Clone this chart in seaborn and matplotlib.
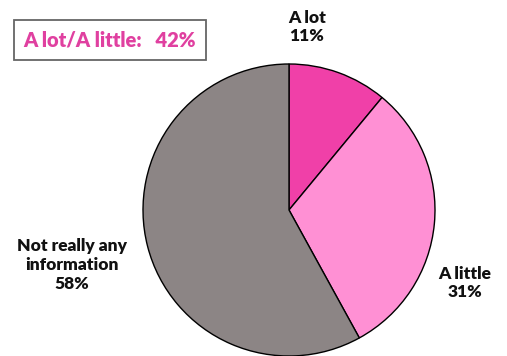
import matplotlib
matplotlib.use("Agg")
import matplotlib.pyplot as plt
import seaborn as sns

categories = ["A lot", "A little", "Not really any\ninformation"]
values = [11, 31, 58]
colors = ["#F040A8", "#FF90D4", "#8C8585"]
summary_label = "A lot/A little:   42%"

sns.set_theme(style="white")
plt.rcParams['font.family'] = ['Lato', 'DejaVu Sans']

W, H = 507, 356
fig = plt.figure(figsize=(W / 100, H / 100), dpi=100)
cx, cy, r = 289, 210, 146
ax = fig.add_axes([(cx - r) / W, 1 - (cy + r) / H, 2 * r / W, 2 * r / H])
ax.pie(values, colors=colors, startangle=90, counterclock=False,
       wedgeprops=dict(edgecolor="black", linewidth=1.0), radius=1)
ax.set_xlim(-1, 1)
ax.set_ylim(-1, 1)
ax.set_aspect("equal")
ax.axis("off")

label_pos = [(307, 27), (465, 283), (72, 265)]
for (px, py), cat, v in zip(label_pos, categories, values):
    fig.text(px / W, 1 - py / H, f"{cat}\n{v}%", ha="center", va="center",
             fontsize=12.5, fontweight="heavy", color="#111111", linespacing=1.2)

fig.text(110 / W, 1 - 40 / H, summary_label, ha="center", va="center",
         fontsize=14.5, fontweight="heavy", color="#E040A0",
         bbox=dict(boxstyle="square,pad=0.5", facecolor="white",
                   edgecolor="#666666", linewidth=1.3))

fig.savefig("out.png", dpi=100)
